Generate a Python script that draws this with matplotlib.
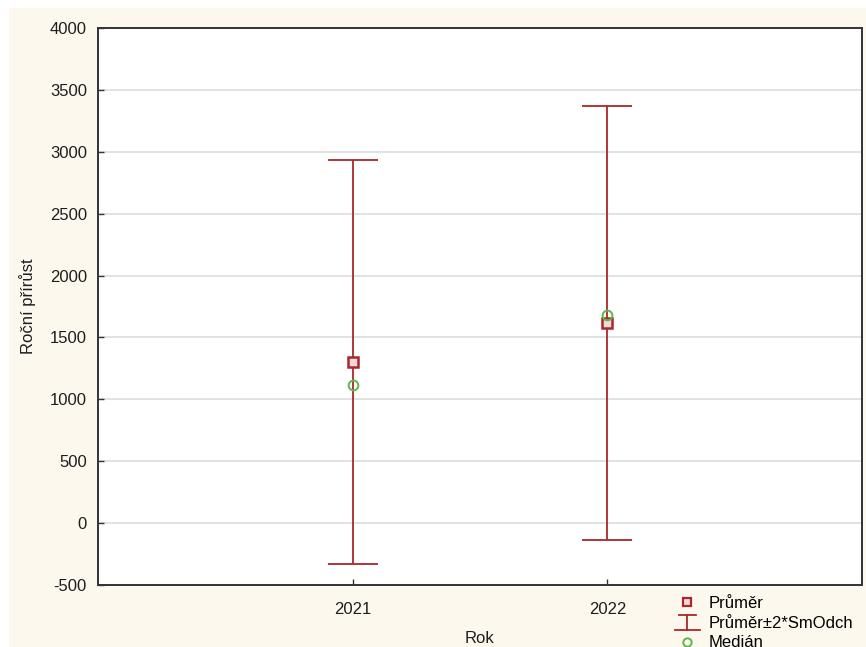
import matplotlib
matplotlib.use("Agg")
from matplotlib import pyplot as plt
from matplotlib.lines import Line2D
from matplotlib.patches import Rectangle
from matplotlib.legend_handler import HandlerBase
import numpy as np

plt.rcParams['font.family'] = ['Liberation Sans', 'DejaVu Sans']
plt.rcParams['axes.unicode_minus'] = False

# roky a statistiky ročního přírůstku
roky = ['2021', '2022']
prumer = [1300, 1615]
dve_smodch = [1630, 1755]
median = [1115, 1680]

cervena = '#a8282c'
zelena = '#5cb84a'
krem = '#fdf8ee'


class HandlerChyba(HandlerBase):
    # svislá úsečka s vodorovnými zarážkami pro legendu
    def create_artists(self, legend, orig_handle, xdescent, ydescent, width,
                       height, fontsize, trans):
        cx = width / 2 - xdescent
        y0, y1 = -ydescent - 2, height - ydescent + 1
        kw = dict(color=cervena, lw=1.3, transform=trans)
        return [Line2D([cx, cx], [y0, y1], **kw),
                Line2D([cx - 6, cx + 6], [y1, y1], **kw),
                Line2D([cx - 9, cx + 9], [y0, y0], **kw)]


class Chyba:
    pass


fig = plt.figure(figsize=(8.66, 6.47), dpi=100, facecolor='white')
fig.patches.append(Rectangle((9 / 866, 0), 1, 1 - 8 / 647, transform=fig.transFigure,
                             facecolor=krem, edgecolor='none', zorder=-10))
ax = fig.add_axes([98 / 866, 1 - 585 / 647, 764 / 866, 557 / 647])
ax.set_facecolor('white')

x = np.arange(1, len(roky) + 1)
ax.errorbar(x, prumer, yerr=dve_smodch, fmt='none', ecolor=cervena,
            elinewidth=1.3, capsize=18, capthick=1.3, zorder=3)
ax.plot(x, prumer, ls='none', marker='s', ms=6.5, mfc='#f3d9d9', mec=cervena,
        mew=1.8, zorder=4)
ax.plot(x, median, ls='none', marker='o', ms=7, mfc='none', mec=zelena,
        mew=1.4, zorder=5)

ax.set_xlim(0, 3)
ax.set_ylim(-500, 4000)
ax.set_xticks(x)
ax.set_xticklabels(roky)
ax.set_yticks(np.arange(-500, 4001, 500))
ax.yaxis.grid(True, color='#dddddd', lw=1.2)
ax.set_axisbelow(True)
ax.tick_params(direction='in', length=4, width=1, labelsize=12, colors='#333333',
               labelcolor='#1e1e1e')
ax.tick_params(axis='y', pad=8)
ax.tick_params(axis='x', pad=12)
for s in ax.spines.values():
    s.set_color('#333333')
    s.set_linewidth(1.4)

ax.set_ylabel('Roční přírůst', fontsize=12, color='#1e1e1e', labelpad=10)
ax.set_xlabel('Rok', fontsize=12, color='#1e1e1e', labelpad=10)

chyba = Chyba()
handles = [
    Line2D([], [], ls='none', marker='s', ms=5.5, mfc='#f3d9d9', mec=cervena, mew=1.6),
    chyba,
    Line2D([], [], ls='none', marker='o', ms=6, mfc='none', mec=zelena, mew=1.4),
]
fig.legend(handles, ['Průměr', 'Průměr±2*SmOdch', 'Medián'], loc='upper left',
           bbox_to_anchor=(674 / 866, 1 - 596 / 647), frameon=False, fontsize=12,
           handlelength=1.6, handletextpad=0.5, labelspacing=0.28, borderpad=0,
           borderaxespad=0, handler_map={Chyba: HandlerChyba()})

fig.savefig('out.png', dpi=100, facecolor=fig.get_facecolor())
